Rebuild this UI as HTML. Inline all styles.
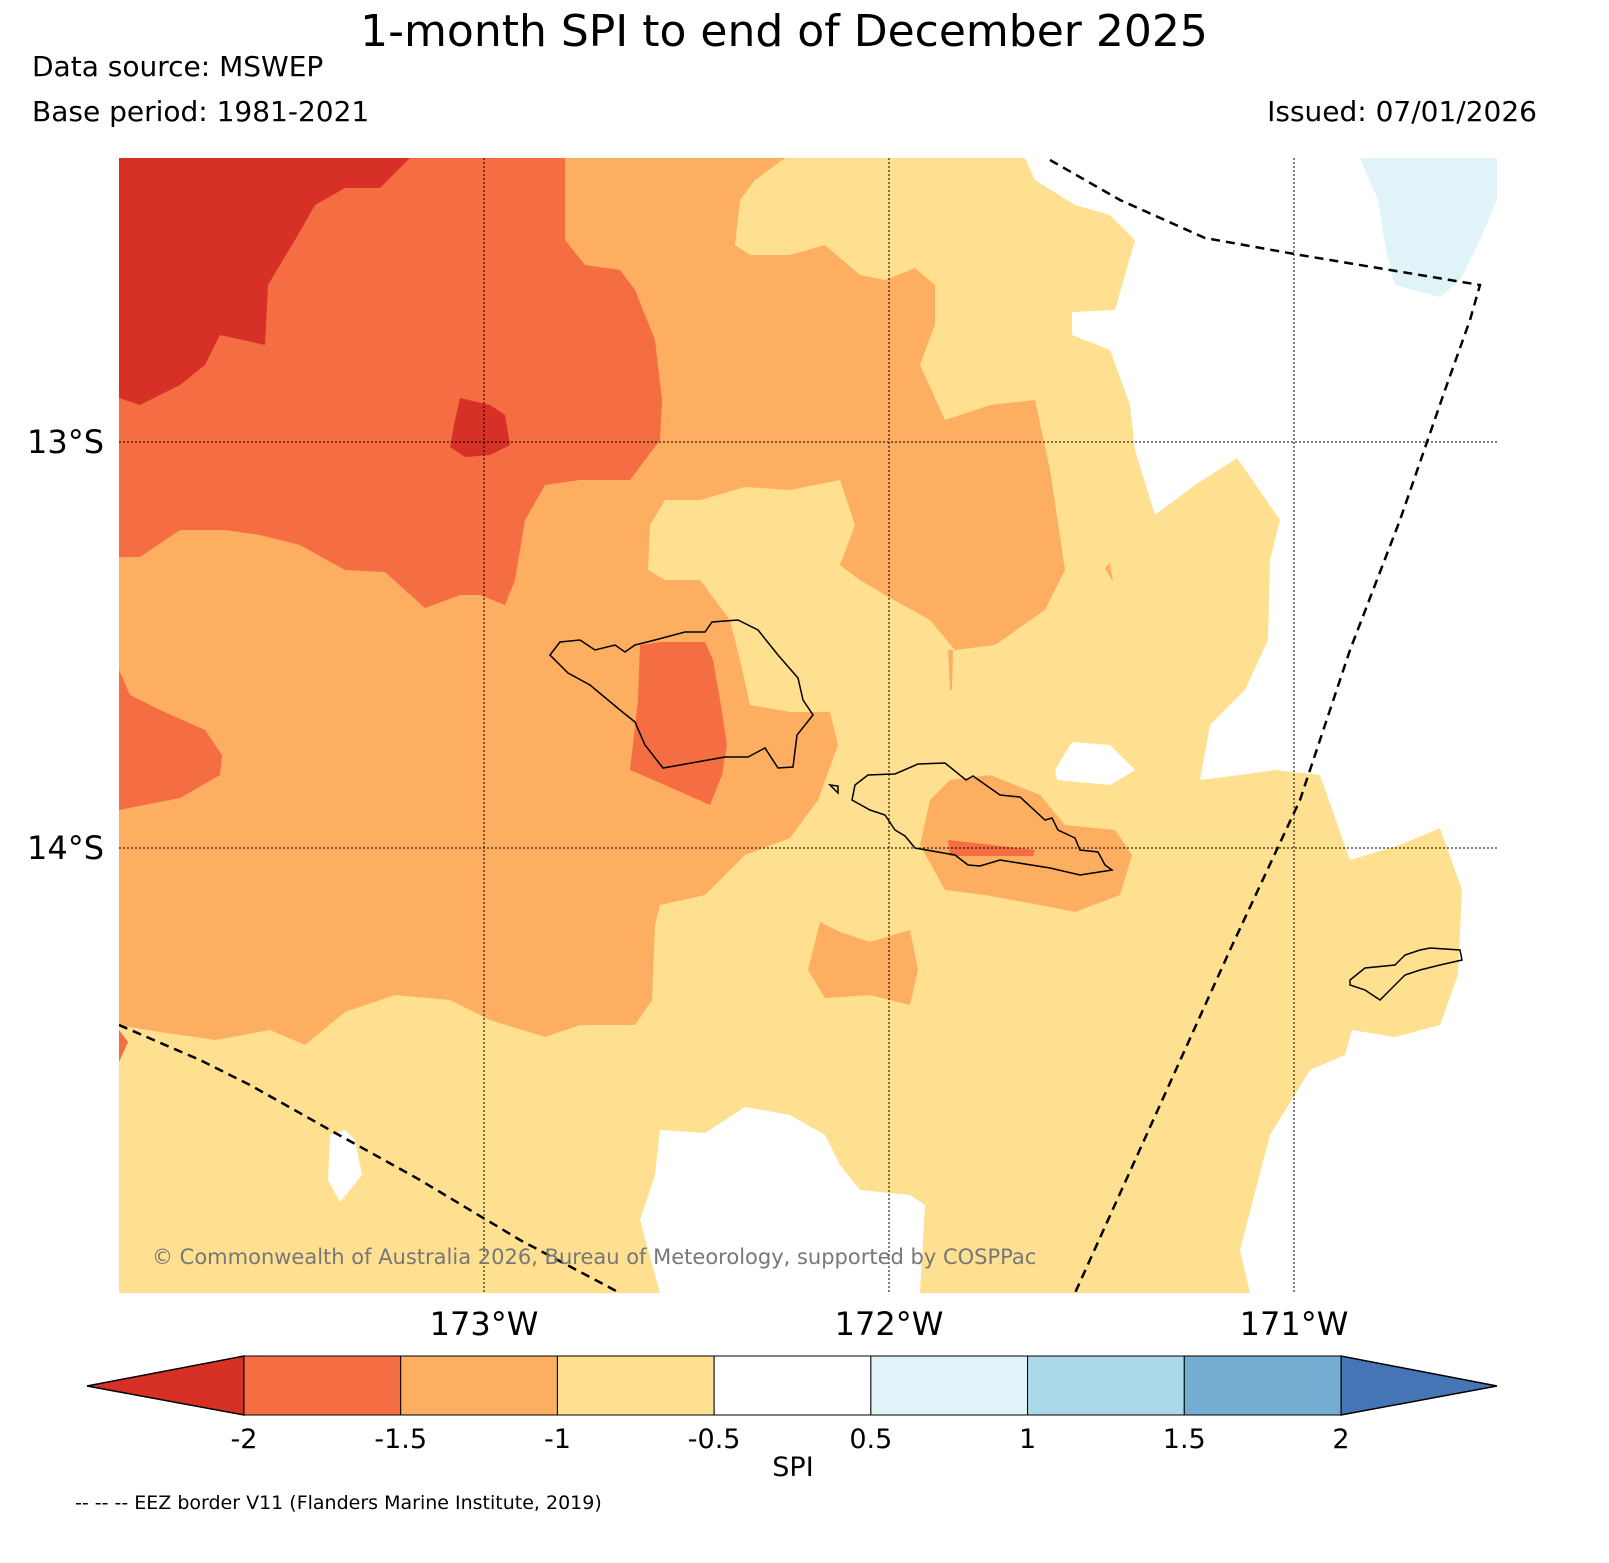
<!DOCTYPE html>
<html><head><meta charset="utf-8"><style>
html,body{margin:0;padding:0;background:#fff;overflow:hidden;width:1609px;height:1563px;}
svg{display:block;font-family:"DejaVu Sans","Liberation Sans",sans-serif;}
</style></head><body>
<svg id="chart" width="1609" height="1563" viewBox="0 0 1609 1563">
<text x="784" y="46" font-size="44" text-anchor="middle" fill="#000">1-month SPI to end of December 2025</text>
<text x="32" y="76" font-size="28">Data source: MSWEP</text>
<text x="32" y="121" font-size="28">Base period: 1981-2021</text>
<text x="1537" y="121" font-size="28" text-anchor="end">Issued: 07/01/2026</text>
<defs><clipPath id="mapclip"><rect x="119" y="158" width="1378" height="1135"/></clipPath></defs>
<g id="map" clip-path="url(#mapclip)">
<rect x="119" y="158" width="1378" height="1135" fill="#fee090"/>
<polygon fill="#fdae61" points="119,158 785,158 755,180 740,200 735,245 750,255 790,255 825,245 860,275 885,280 915,268 935,285 935,325 920,365 945,420 990,405 1035,400 1050,470 1065,570 1045,610 995,645 955,650 930,620 885,595 860,580 840,565 855,525 840,480 790,490 745,487 700,500 665,500 650,525 648,570 665,580 700,580 730,620 740,660 750,705 790,712 830,712 838,745 818,800 790,838 745,855 705,895 660,905 655,925 652,1000 635,1025 580,1025 545,1037 490,1020 450,1000 395,995 345,1012 305,1045 270,1030 215,1040 160,1032 119,1025"/>
<polygon fill="#fdae61" points="950,780 990,775 1040,795 1065,825 1115,830 1132,855 1120,895 1075,912 1040,905 985,895 945,890 920,845 930,800"/>
<polygon fill="#fdae61" points="820,922 840,932 870,942 910,930 918,970 910,1005 870,995 825,998 808,970"/>
<polygon fill="#fdae61" points="1105,568 1110,563 1113,582"/>
<polygon fill="#fdae61" points="948,650 953,650 952,690 950,690"/>
<polygon fill="#f46d43" points="119,158 565,158 565,240 585,265 620,270 635,290 655,340 662,400 660,440 630,480 580,480 545,485 525,520 515,580 505,605 480,595 460,595 425,608 385,572 345,570 300,545 260,535 225,530 180,530 140,557 119,557"/>
<polygon fill="#f46d43" points="119,670 130,695 160,710 205,730 222,755 220,775 180,798 119,810"/>
<polygon fill="#f46d43" points="640,645 660,642 705,642 713,660 720,700 727,745 722,775 710,805 665,785 630,770 638,700"/>
<polygon fill="#f46d43" points="948,840 1035,850 1033,856 950,856"/>
<polygon fill="#f46d43" points="119,1030 128,1042 119,1062"/>
<polygon fill="#d73027" points="119,158 410,158 380,188 345,188 315,205 295,240 268,285 265,345 220,335 205,365 180,385 140,405 119,398"/>
<polygon fill="#d73027" points="460,398 490,405 505,415 510,445 490,455 465,457 450,447 455,420"/>
<polygon fill="#ffffff" points="1025,158 1035,180 1075,205 1110,215 1135,240 1115,310 1072,312 1072,335 1110,350 1130,405 1135,450 1155,515 1195,485 1237,458 1280,520 1270,560 1268,640 1245,690 1210,725 1200,780 1240,775 1275,770 1320,775 1350,860 1400,845 1440,828 1462,890 1458,975 1440,1025 1395,1037 1352,1030 1345,1055 1310,1070 1270,1135 1240,1250 1250,1293 1497,1293 1497,158"/>
<polygon fill="#e0f3f8" points="1360,158 1497,158 1497,200 1480,240 1460,280 1440,297 1395,285 1385,245 1378,200"/>
<polygon fill="#ffffff" points="1072,742 1110,745 1135,770 1110,785 1057,780 1055,770"/>
<polygon fill="#ffffff" points="920,1293 925,1205 910,1195 860,1190 840,1165 825,1135 790,1115 745,1107 705,1133 660,1130 655,1175 640,1220 660,1293"/>
<polygon fill="#ffffff" points="330,1135 345,1130 355,1140 362,1175 340,1202 328,1180"/>
<polygon fill="none" stroke="#000" stroke-width="1.5" points="550,655 560,642 580,640 595,650 615,645 625,652 635,645 655,640 685,632 705,632 712,622 738,620 758,630 778,655 798,678 803,700 813,715 797,735 793,767 778,768 765,748 748,757 725,757 663,768 645,745 635,722 620,710 590,685 568,673"/>
<polygon fill="none" stroke="#000" stroke-width="1.5" points="855,785 868,775 895,774 918,764 945,763 966,780 973,776 1000,795 1020,797 1045,820 1052,818 1058,830 1075,838 1080,850 1098,852 1105,865 1112,870 1080,875 1050,868 1000,860 980,866 968,865 955,855 915,848 905,836 895,830 885,815 870,810 852,800"/>
<polygon fill="none" stroke="#000" stroke-width="1.5" points="830,785 838,786 838,793"/>
<polygon fill="none" stroke="#000" stroke-width="1.5" points="1350,980 1365,968 1395,965 1405,955 1420,950 1430,948 1460,950 1462,960 1440,965 1420,970 1405,975 1380,1000 1365,990 1350,985"/>
<polyline fill="none" stroke="#000" stroke-width="2.5" stroke-dasharray="9,6" points="1050,160 1120,200 1205,238 1300,255 1480,285 1470,320 1445,390 1400,520 1350,650 1300,800 1230,950 1160,1105 1075,1293"/>
<polyline fill="none" stroke="#000" stroke-width="2.5" stroke-dasharray="9,6" points="119,1025 200,1060 250,1085 330,1130 420,1180 520,1240 620,1293"/>
<g stroke="#000" stroke-width="1" stroke-dasharray="2,2">
<line x1="484" y1="158" x2="484" y2="1293"/><line x1="889" y1="158" x2="889" y2="1293"/><line x1="1294" y1="158" x2="1294" y2="1293"/>
<line x1="119" y1="442" x2="1497" y2="442"/><line x1="119" y1="848" x2="1497" y2="848"/>
</g>
<text x="152" y="1264" font-size="21" fill="#777">© Commonwealth of Australia 2026, Bureau of Meteorology, supported by COSPPac</text>
</g>
<g font-size="32">
<text x="104" y="453" text-anchor="end">13°S</text>
<text x="104" y="859" text-anchor="end">14°S</text>
<text x="484" y="1335" text-anchor="middle">173°W</text>
<text x="889" y="1335" text-anchor="middle">172°W</text>
<text x="1294" y="1335" text-anchor="middle">171°W</text>
</g>
<g id="colorbar"></g>
<text x="793" y="1476" font-size="27" text-anchor="middle">SPI</text>
<text x="75" y="1509" font-size="19">-- -- -- EEZ border V11 (Flanders Marine Institute, 2019)</text>
</svg>
<script>
const binEdges = [-2, -1.5, -1, -0.5, 0.5, 1, 1.5, 2];
const tickLabels = ["-2", "-1.5", "-1", "-0.5", "0.5", "1", "1.5", "2"];
const binColors = ["#f46d43", "#fdae61", "#fee090", "#ffffff", "#e0f3f8", "#abd9e9", "#74add1"];
const extendColors = ["#d73027", "#4575b4"];
const ns = "http://www.w3.org/2000/svg";
const cb = document.getElementById("colorbar");
const x0 = 244, x1 = 1341, yT = 1356, yB = 1415, yM = 1386;
function xs(i){ return x0 + (x1 - x0) * i / (binEdges.length - 1); }
function mk(tag, attrs){ const e = document.createElementNS(ns, tag); for (const k in attrs) e.setAttribute(k, attrs[k]); cb.appendChild(e); return e; }
const lt = mk("polygon", {points: `87,${yM} ${x0},${yT} ${x0},${yB}`, fill: extendColors[0], stroke: "#000", "stroke-width": 1.5});


const rt = mk("polygon", {points: `1497,${yM} ${x1},${yT} ${x1},${yB}`, fill: extendColors[1], stroke: "#000", "stroke-width": 1.5});


binColors.forEach((c, i) => {
  const r = mk("rect", {x: xs(i), y: yT, width: xs(i+1) - xs(i), height: yB - yT, fill: c, stroke: "#000", "stroke-width": 1});
  
  
});
tickLabels.forEach((t, i) => {
  const tx = mk("text", {x: xs(i), y: 1448, "font-size": 27, "text-anchor": "middle"});
  tx.textContent = t;
  
  
});
</script>
</body></html>
